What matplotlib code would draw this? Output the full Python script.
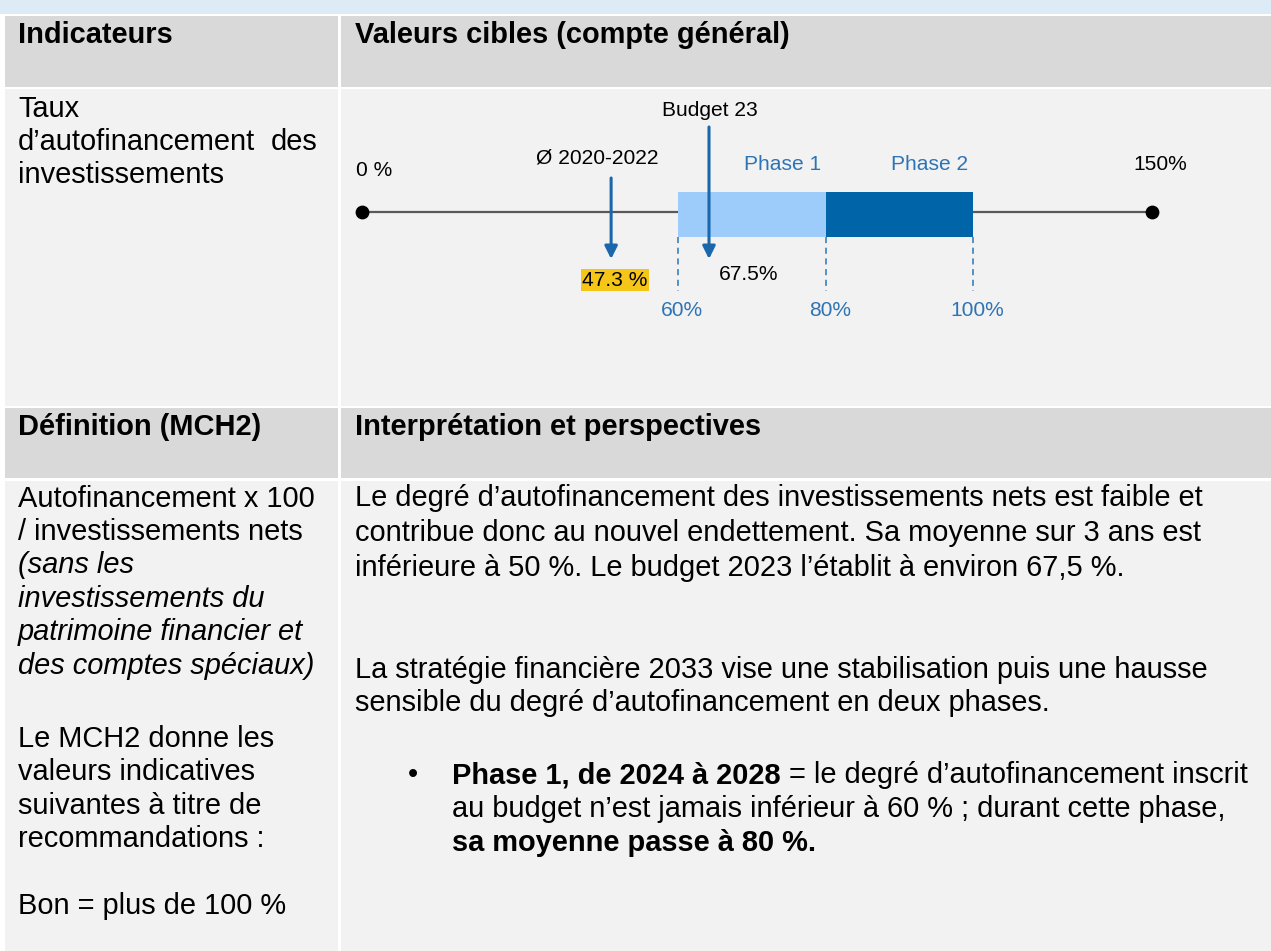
import matplotlib.pyplot as plt
import numpy as np
from matplotlib.patches import Rectangle

# Data
scale_ends = [0, 150]
scale_end_labels = ['0 %', '150%']
phase_names = ['Phase 1', 'Phase 2']
phase_start = [60, 80]
phase_end = [80, 100]
threshold_values = [60, 80, 100]
threshold_labels = ['60%', '80%', '100%']
marker_names = ['Ø 2020-2022', 'Budget 23']
marker_values = [47.3, 67.5]
marker_value_labels = ['47.3 %', '67.5%']

# schematic (non linear) axis of the original graphic
scale_breaks = [0, 60, 67.5, 80, 100, 150]
scale_pos = [362, 678, 709, 826, 973, 1152]

plt.rcParams['font.family'] = ['Liberation Sans', 'DejaVu Sans']

W, H = 1271, 951
fig = plt.figure(figsize=(W / 100, H / 100), dpi=100)
fig.patch.set_facecolor('white')

# Table background, pixel coordinates
ax = fig.add_axes([0, 0, 1, 1])
ax.set_xlim(0, W)
ax.set_ylim(H, 0)
ax.axis('off')

ax.add_patch(Rectangle((0, 0), W, 14, color='#DDEBF7', lw=0))
rows = [(16, 87, '#D9D9D9'), (89, 406, '#F2F2F2'), (408, 478, '#D9D9D9'), (481, H, '#F2F2F2')]
for top, bottom, col in rows:
    ax.add_patch(Rectangle((5, top), 338 - 5, bottom - top, color=col, lw=0))
    ax.add_patch(Rectangle((341, top), W - 341, bottom - top, color=col, lw=0))

BODY = 20.9
LX, RX = 18, 355

# Headers
ax.text(LX, 43, 'Indicateurs', fontsize=BODY, fontweight='bold')
ax.text(RX, 43, 'Valeurs cibles (compte général)', fontsize=BODY, fontweight='bold')
ax.text(LX, 435, 'Définition (MCH2)', fontsize=BODY, fontweight='bold')
ax.text(RX, 435, 'Interprétation et perspectives', fontsize=BODY, fontweight='bold')

# Indicator name (justified)
ax.text(LX, 117, 'Taux', fontsize=BODY)
ax.text(LX, 150, 'd’autofinancement', fontsize=BODY)
ax.text(317, 150, 'des', fontsize=BODY, ha='right')
ax.text(LX, 183, 'investissements', fontsize=BODY)

# Definition column
left_lines = [
    ('Autofinancement x 100', 507, 'normal'),
    ('/ investissements nets', 540, 'normal'),
    ('(sans les', 573, 'italic'),
    ('investissements du', 607, 'italic'),
    ('patrimoine financier et', 640, 'italic'),
    ('des comptes spéciaux)', 674, 'italic'),
    ('Le MCH2 donne les', 747, 'normal'),
    ('valeurs indicatives', 780, 'normal'),
    ('suivantes à titre de', 814, 'normal'),
    ('recommandations :', 847, 'normal'),
    ('Bon = plus de 100 %', 914, 'normal'),
]
for txt, y, st in left_lines:
    ax.text(LX, y, txt, fontsize=BODY, style=st)

# Interpretation column
right_lines = [
    ('Le degré d’autofinancement des investissements nets est faible et', 506),
    ('contribue donc au nouvel endettement. Sa moyenne sur 3 ans est', 541),
    ('inférieure à 50 %. Le budget 2023 l’établit à environ 67,5 %.', 576),
    ('La stratégie financière 2033 vise une stabilisation puis une hausse', 678),
    ('sensible du degré d’autofinancement en deux phases.', 711),
]
for txt, y in right_lines:
    ax.text(RX, y, txt, fontsize=BODY)

ax.text(408, 783, '•', fontsize=BODY)
b1 = ax.text(452, 783, 'Phase 1, de 2024 à 2028', fontsize=BODY, fontweight='bold')
ax.annotate(' = le degré d’autofinancement inscrit', xy=(1, 0), xycoords=b1,
            va='bottom', ha='left', fontsize=BODY)
ax.text(452, 817, 'au budget n’est jamais inférieur à 60 % ; durant cette phase,', fontsize=BODY)
ax.text(452, 851, 'sa moyenne passe à 80 %.', fontsize=BODY, fontweight='bold')

# Target value chart
def fwd(v):
    return np.interp(v, scale_breaks, scale_pos)

def inv(p):
    return np.interp(p, scale_pos, scale_breaks)

x0, x1 = scale_pos[0], scale_pos[-1]
cax = fig.add_axes([x0 / W, 0, (x1 - x0) / W, 1])
cax.set_xscale('function', functions=(fwd, inv))
cax.set_xlim(scale_ends[0], scale_ends[1])
cax.set_ylim(H, 0)
cax.axis('off')
cax.patch.set_visible(False)

CH = 15.1
BLUE_TXT = '#2E74B5'
ARROW = '#1A68AB'

def off(px):
    return px * 72 / 100

cax.plot(scale_ends, [211.5, 211.5], color='#595959', lw=1.6, zorder=1)
cax.scatter(scale_ends, [211.5, 211.5], s=80, color='black', zorder=3, clip_on=False)

phase_colors = ['#9DCBFA', '#0064A8']
cax.barh(214.5, np.subtract(phase_end, phase_start), left=phase_start, height=45,
         color=phase_colors, zorder=2)

cax.vlines(threshold_values, 237, 291, colors=BLUE_TXT, lw=1.1, linestyles=(0, (4, 3)))

for v, lab in zip(threshold_values, threshold_labels):
    cax.annotate(lab, xy=(v, 310), xytext=(off(4), 0), textcoords='offset points',
                 ha='center', va='center', fontsize=CH, color=BLUE_TXT)

for name, e in zip(phase_names, phase_end):
    cax.annotate(name, xy=(e, 164), xytext=(off(-5), 0), textcoords='offset points',
                 ha='right', va='center', fontsize=CH, color=BLUE_TXT)

end_dx = [12, 8]
end_y = [170, 165]
for v, lab, dx, y in zip(scale_ends, scale_end_labels, end_dx, end_y):
    cax.annotate(lab, xy=(v, y), xytext=(off(dx), 0), textcoords='offset points',
                 ha='center', va='center', fontsize=CH, color='black')

# Markers: average 2020-2022 and budget 2023
arrow_top = [178, 127]
name_y = [158, 110]
name_dx = [-14, 1]
for v, name, top, ny, dx in zip(marker_values, marker_names, arrow_top, name_y, name_dx):
    cax.annotate('', xy=(v, 259), xytext=(v, top),
                 arrowprops=dict(arrowstyle='-|>', color=ARROW, lw=2.2, mutation_scale=19,
                                 shrinkA=0, shrinkB=0), zorder=4)
    cax.annotate(name, xy=(v, ny), xytext=(off(dx), 0), textcoords='offset points',
                 ha='center', va='center', fontsize=CH, color='black')

cax.annotate(marker_value_labels[0], xy=(marker_values[0], 280), xytext=(off(4), 0),
             textcoords='offset points', ha='center', va='center', fontsize=CH,
             bbox=dict(boxstyle='square,pad=0.08', fc='#F5C518', ec='none'))
cax.annotate(marker_value_labels[1], xy=(marker_values[1], 275), xytext=(off(10), 0),
             textcoords='offset points', ha='left', va='center', fontsize=CH)

fig.savefig('out.png', dpi=100)
